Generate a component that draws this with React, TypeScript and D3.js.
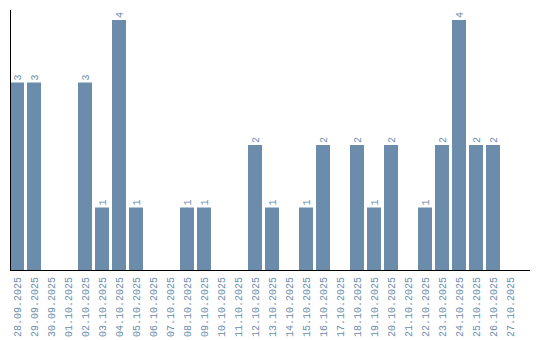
import React from "react";
import * as d3 from "d3";

const dates = [
  "28.09.2025","29.09.2025","30.09.2025","01.10.2025","02.10.2025","03.10.2025",
  "04.10.2025","05.10.2025","06.10.2025","07.10.2025","08.10.2025","09.10.2025",
  "10.10.2025","11.10.2025","12.10.2025","13.10.2025","14.10.2025","15.10.2025",
  "16.10.2025","17.10.2025","18.10.2025","19.10.2025","20.10.2025","21.10.2025",
  "22.10.2025","23.10.2025","24.10.2025","25.10.2025","26.10.2025","27.10.2025",
];
const counts = [3,3,0,0,3,1,4,1,0,0,1,1,0,0,2,1,0,1,2,0,2,1,2,0,1,2,4,2,2,0];

const W = 540, H = 340;
const left = 10, baseY = 270;
const barColor = "#6b8dab";
const textColor = "#6b8dab";
const font = "'Liberation Mono', monospace";

export default function App() {
  const x = d3
    .scaleBand<string>()
    .domain(dates)
    .range([left, left + 17 * dates.length - 3])
    .paddingInner(3 / 17)
    .paddingOuter(0);
  const y = d3.scaleLinear().domain([0, 4]).range([baseY, 20]);
  const bw = x.bandwidth();
  return (
    <svg width={W} height={H} style={{ position: "absolute", left: 0, top: 0 }}>
      {dates.map((d, i) => {
        const v = counts[i];
        if (!v) return null;
        const bx = x(d)!;
        return (
          <g key={d}>
            <rect x={bx} y={y(v)} width={bw} height={baseY - y(v)} fill={barColor} />
            <text
              transform={`translate(${bx + bw / 2 + 3.5},${y(v) - 2}) rotate(-90)`}
              fontFamily={font}
              fontSize={10}
              fill={textColor}
            >
              {v}
            </text>
          </g>
        );
      })}
      <line x1={left + 0.5} x2={left + 0.5} y1={10} y2={baseY} stroke="#000" strokeWidth={1} />
      <line x1={left} x2={530} y1={baseY + 0.5} y2={baseY + 0.5} stroke="#000" strokeWidth={1} />
      {dates.map((d) => (
        <text
          key={"t" + d}
          transform={`translate(${x(d)! + bw / 2 + 3.5},${baseY + 7}) rotate(-90)`}
          textAnchor="end"
          fontFamily={font}
          fontSize={10}
          fill={textColor}
        >
          {d}
        </text>
      ))}
    </svg>
  );
}
